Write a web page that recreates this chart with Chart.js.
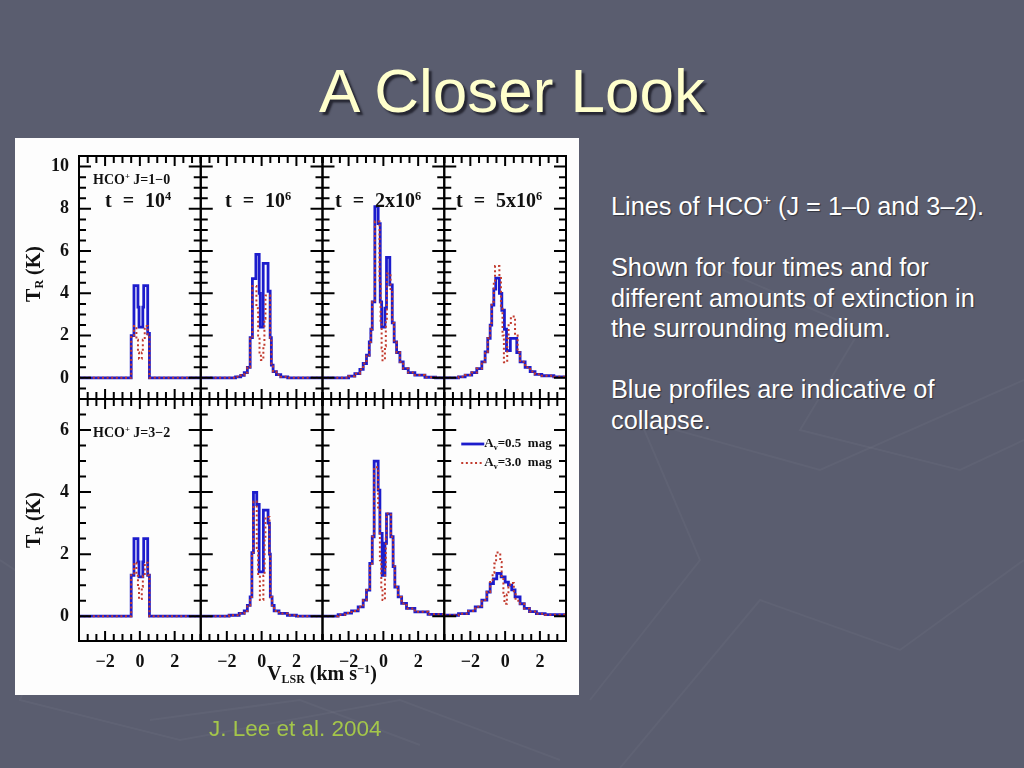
<!DOCTYPE html>
<html>
<head>
<meta charset="utf-8">
<title>A Closer Look</title>
<script src="https://cdn.jsdelivr.net/npm/chart.js@4.4.1/dist/chart.umd.min.js"></script>
<style>
  html, body { margin: 0; padding: 0; }
  body { width: 1024px; height: 768px; overflow: hidden; background: #5a5d6f; font-family: "Liberation Sans", Arial, sans-serif; }
  #slide { position: relative; width: 1024px; height: 768px; }
  #bg { position: absolute; left: 0; top: 0; }
  .title { position: absolute; left: 0; top: 60px; width: 1024px; text-align: center; font-size: 62px; line-height: 62px; color: #ffffcc; text-shadow: 3px 3px 2px rgba(20, 20, 30, 0.75); }
  #figure { position: absolute; left: 15px; top: 138px; width: 564px; height: 557px; background: #fdfdfd; }
  #plots canvas { position: absolute; left: 0; top: 0; }
  .lbl { position: absolute; font-family: "Liberation Serif", "Times New Roman", serif; font-weight: bold; color: #111; white-space: pre; }
  .lbl sup { font-size: 62%; line-height: 0; vertical-align: 0.6em; }
  .lbl sub { font-size: 60%; line-height: 0; vertical-align: -0.25em; }
  .ytitle { transform: translate(-50%, -50%) rotate(-90deg); font-size: 20px; line-height: 20px; }
  .notes { position: absolute; left: 611px; top: 191px; font-size: 25.3px; line-height: 30.5px; color: #ffffff; white-space: nowrap; text-shadow: 1px 1px 1px rgba(0, 0, 0, 0.45); }
  .notes sup { font-size: 55%; line-height: 0; vertical-align: 0.75em; }
  .cite { position: absolute; left: 209px; top: 718px; font-size: 22.5px; line-height: 22px; color: #a4c64a; }
</style>
</head>
<body>
<div id="slide">
  <svg id="bg" width="1024" height="768">
    <g fill="none" stroke="rgba(255,255,255,0.035)" stroke-width="2">
      <polyline points="590,700 700,560 640,420 820,470 1024,380"/>
      <polyline points="620,768 760,600 900,650 1024,560"/>
      <polyline points="0,560 60,600 20,700 180,740 400,700 560,760"/>
      <polyline points="700,260 860,330 800,430 960,470 1024,440"/>
      <polyline points="150,720 300,700 420,745"/>
    </g>
  </svg>
  <div class="title">A Closer Look</div>
  <div id="figure">
    <div id="plots"></div>
    <div class="lbl" style="left:78px; top:35px; font-size:14px; line-height:14px;">HCO<sup>+</sup> J=1−0</div>
    <div class="lbl" style="left:78px; top:288px; font-size:14px; line-height:14px;">HCO<sup>+</sup> J=3−2</div>
    <div id="timeLabels"></div>
    <div class="lbl ytitle" style="left:18px; top:136px;">T<sub>R</sub> (K)</div>
    <div class="lbl ytitle" style="left:18px; top:382px;">T<sub>R</sub> (K)</div>
    <div class="lbl" style="left:307px; top:525px; font-size:20px; line-height:20px; transform:translateX(-50%);">V<sub>LSR</sub> (km s<sup>−1</sup>)</div>
  </div>
  <div class="notes">Lines of HCO<sup>+</sup> (J = 1–0 and 3–2).<br><br>Shown for four times and for<br>different amounts of extinction in<br>the surrounding medium.<br><br>Blue profiles are indicative of<br>collapse.</div>
  <div class="cite">J. Lee et al. 2004</div>
</div>

<script>
// ===== axis values and labels =====
const velRange = [-3.5, 3.5];
const velLabels = [-2, 0, 2];
const rangeTop = [-1, 10.5];
const rangeBottom = [-0.8, 7];
const tickLabelsTop = [0, 2, 4, 6, 8, 10];
const tickLabelsBottom = [0, 2, 4, 6];
const timeMantissa = ['', '', '2x', '5x'];
const timeExponent = ['4', '6', '6', '6'];
const extinctions = ['0.5', '3.0'];

// ===== profiles as [v_LSR channel start, T_R] =====
// HCO+ J=1-0
const j10t1Blue = [[-3.5,0],[-0.5,2.0],[-0.34,4.37],[-0.11,3.35],[-0.05,2.4],[0.17,3.35],[0.22,4.37],[0.45,2.1],[0.55,0],[3.5,0]];
const j10t1Red  = [[-3.5,0],[-0.5,2.0],[-0.34,2.45],[-0.2,1.8],[-0.11,1.2],[-0.05,0.9],[0.11,1.2],[0.17,1.8],[0.28,2.45],[0.45,2.05],[0.55,0],[3.5,0]];
const j10t2Blue = [[-3.5,0],[-1.5,0.05],[-1.2,0.12],[-1.0,0.25],[-0.82,0.5],[-0.66,1.9],[-0.53,4.7],[-0.33,5.84],[-0.14,4.0],[-0.08,2.4],[0.09,5.42],[0.37,4.1],[0.49,1.9],[0.56,0.6],[0.66,0.3],[0.85,0.15],[1.1,0.05],[1.5,0],[3.5,0]];
const j10t2Red  = [[-3.5,0],[-1.5,0.05],[-1.2,0.12],[-1.0,0.25],[-0.82,0.5],[-0.66,1.9],[-0.53,4.35],[-0.3,3.3],[-0.2,2.0],[-0.12,1.2],[-0.04,0.85],[0.1,1.5],[0.16,2.8],[0.22,3.9],[0.49,1.9],[0.56,0.6],[0.66,0.3],[0.85,0.15],[1.1,0.05],[1.5,0],[3.5,0]];
const j10t3Blue = [[-3.5,0],[-2.0,0.08],[-1.64,0.2],[-1.35,0.4],[-1.16,0.68],[-0.97,1.07],[-0.81,1.7],[-0.72,2.3],[-0.64,3.6],[-0.49,8.1],[-0.3,7.3],[-0.18,3.6],[-0.1,2.4],[0.09,3.3],[0.18,5.7],[0.37,4.4],[0.51,2.6],[0.62,1.7],[0.76,1.2],[0.95,0.76],[1.14,0.44],[1.43,0.25],[1.81,0.13],[2.39,0.03],[3.0,0],[3.5,0]];
const j10t3Red  = [[-3.5,0],[-2.0,0.08],[-1.64,0.2],[-1.35,0.4],[-1.16,0.68],[-0.97,1.07],[-0.81,1.7],[-0.72,2.3],[-0.64,3.6],[-0.49,7.4],[-0.22,4.5],[-0.16,2.6],[-0.1,1.4],[-0.05,0.83],[0.09,1.5],[0.14,2.8],[0.2,4.94],[0.41,4.2],[0.51,2.6],[0.62,1.7],[0.76,1.2],[0.95,0.76],[1.14,0.44],[1.43,0.25],[1.81,0.13],[2.39,0.03],[3.0,0],[3.5,0]];
const j10t4Blue = [[-3.5,0],[-2.68,0.05],[-2.3,0.13],[-1.92,0.25],[-1.63,0.44],[-1.34,0.76],[-1.15,1.23],[-1.0,1.87],[-0.86,2.5],[-0.77,3.44],[-0.65,4.2],[-0.54,4.72],[-0.33,4.0],[-0.19,3.2],[-0.04,2.3],[0.08,1.29],[0.3,1.87],[0.67,1.2],[0.86,0.76],[1.15,0.5],[1.44,0.3],[1.72,0.17],[2.11,0.1],[2.8,0.05],[3.5,0.05]];
const j10t4Red  = [[-3.5,0],[-2.68,0.05],[-2.3,0.13],[-1.92,0.25],[-1.63,0.44],[-1.34,0.76],[-1.15,1.23],[-1.0,1.87],[-0.86,2.6],[-0.77,3.6],[-0.65,4.6],[-0.58,5.29],[-0.33,4.8],[-0.24,3.4],[-0.15,2.0],[-0.07,0.74],[0.12,1.87],[0.2,2.6],[0.33,2.9],[0.57,2.0],[0.72,1.2],[0.86,0.76],[1.15,0.5],[1.44,0.3],[1.72,0.17],[2.11,0.1],[2.8,0.05],[3.5,0.05]];
// HCO+ J=3-2
const j32t1Blue = [[-3.5,0],[-0.5,1.32],[-0.34,2.5],[-0.11,1.75],[-0.05,1.27],[0.17,1.75],[0.22,2.5],[0.45,1.32],[0.55,0],[3.5,0]];
const j32t1Red  = [[-3.5,0],[-0.5,1.32],[-0.34,1.72],[-0.2,1.3],[-0.11,0.95],[-0.05,0.55],[0.11,0.95],[0.17,1.3],[0.28,1.72],[0.45,1.32],[0.55,0],[3.5,0]];
const j32t2Blue = [[-3.5,0],[-1.87,0.03],[-1.29,0.09],[-1.0,0.17],[-0.82,0.35],[-0.66,0.62],[-0.56,2.05],[-0.47,3.99],[-0.28,3.6],[-0.14,1.43],[0.1,3.42],[0.37,3.0],[0.45,2.0],[0.5,0.62],[0.6,0.35],[0.72,0.17],[1.0,0.09],[1.48,0.03],[2.0,0],[3.5,0]];
const j32t2Red  = [[-3.5,0],[-1.87,0.03],[-1.29,0.09],[-1.0,0.17],[-0.82,0.35],[-0.66,0.62],[-0.56,2.05],[-0.47,3.7],[-0.28,2.2],[-0.2,1.3],[-0.1,0.52],[0.1,1.3],[0.17,2.5],[0.22,3.2],[0.45,2.0],[0.5,0.62],[0.6,0.35],[0.72,0.17],[1.0,0.09],[1.48,0.03],[2.0,0],[3.5,0]];
const j32t3Blue = [[-3.5,0],[-2.6,0.05],[-2.21,0.1],[-1.83,0.17],[-1.45,0.3],[-1.16,0.52],[-0.97,0.84],[-0.78,1.7],[-0.64,2.56],[-0.53,5.0],[-0.3,4.06],[-0.2,2.67],[-0.07,1.32],[0.09,2.35],[0.18,3.3],[0.43,2.56],[0.56,1.6],[0.66,0.94],[0.85,0.62],[1.05,0.41],[1.33,0.25],[1.81,0.14],[2.57,0.06],[3.5,0.03]];
const j32t3Red  = [[-3.5,0],[-2.6,0.05],[-2.21,0.1],[-1.83,0.17],[-1.45,0.3],[-1.16,0.52],[-0.97,0.84],[-0.78,1.7],[-0.64,2.56],[-0.53,4.8],[-0.3,3.5],[-0.2,1.8],[-0.12,0.9],[-0.05,0.52],[0.09,1.5],[0.14,2.5],[0.18,3.31],[0.43,2.56],[0.56,1.6],[0.66,0.94],[0.85,0.62],[1.05,0.41],[1.33,0.25],[1.81,0.14],[2.57,0.06],[3.5,0.03]];
const j32t4Blue = [[-3.5,0.03],[-2.68,0.08],[-2.11,0.17],[-1.72,0.3],[-1.34,0.52],[-1.05,0.78],[-0.86,1.05],[-0.67,1.2],[-0.48,1.38],[-0.23,1.27],[0.0,1.1],[0.19,1.0],[0.38,0.85],[0.57,0.62],[0.86,0.4],[1.1,0.25],[1.4,0.15],[1.8,0.08],[2.3,0.05],[3.5,0.03]];
const j32t4Red  = [[-3.5,0.03],[-2.68,0.08],[-2.11,0.17],[-1.72,0.3],[-1.34,0.52],[-1.05,0.78],[-0.86,1.1],[-0.72,1.4],[-0.62,1.7],[-0.52,2.05],[-0.28,1.75],[-0.2,1.2],[-0.1,0.65],[-0.04,0.4],[0.1,0.7],[0.19,0.95],[0.29,1.07],[0.5,0.75],[0.6,0.5],[0.86,0.4],[1.1,0.25],[1.4,0.15],[1.8,0.08],[2.3,0.05],[3.5,0.03]];

const panels = [
  [j10t1Blue, j10t1Red], [j10t2Blue, j10t2Red], [j10t3Blue, j10t3Red], [j10t4Blue, j10t4Red],
  [j32t1Blue, j32t1Red], [j32t2Blue, j32t2Red], [j32t3Blue, j32t3Red], [j32t4Blue, j32t4Red]
];

// ===== layout of the 4x2 grid inside the white figure =====
const figW = 564, figH = 557;
const colEdges = [64, 185.75, 307.5, 429.25, 551];
const rowEdges = [18, 261, 503];
const timeLabelX = [90, 210, 320, 441];
const blue = '#1c1ccc';
const red = '#c23b2e';
const tickFont = { family: '"Liberation Serif", "Times New Roman", serif', size: 18, weight: 'bold' };

function onHalf(v) { return Math.abs(v * 2 - Math.round(v * 2)) < 1e-6; }
function isEven(v) { return Math.abs(v / 2 - Math.round(v / 2)) < 1e-6; }

// frame plus inward tick marks on all four sides (PGPLOT style)
const frameTicks = {
  id: 'frameTicks',
  afterDatasetsDraw(chart) {
    const { ctx, chartArea: a, scales: { x, y } } = chart;
    ctx.save();
    ctx.strokeStyle = '#000';
    ctx.lineWidth = 2;
    ctx.beginPath();
    x.ticks.forEach(t => {
      if (!onHalf(t.value)) return;
      const px = x.getPixelForValue(t.value);
      const len = isEven(t.value) ? 10 : 7;
      ctx.moveTo(px, a.bottom); ctx.lineTo(px, a.bottom - len);
      ctx.moveTo(px, a.top); ctx.lineTo(px, a.top + len);
    });
    y.ticks.forEach(t => {
      if (!onHalf(t.value)) return;
      const py = y.getPixelForValue(t.value);
      const len = isEven(t.value) ? 12 : 7;
      ctx.moveTo(a.left, py); ctx.lineTo(a.left + len, py);
      ctx.moveTo(a.right, py); ctx.lineTo(a.right - len, py);
    });
    ctx.stroke();
    ctx.strokeRect(a.left, a.top, a.right - a.left, a.bottom - a.top);
    ctx.restore();
  }
};

// small legend drawn inside the last panel
const insideLegend = {
  id: 'insideLegend',
  afterDraw(chart, args, opts) {
    if (!opts.show) return;
    const { ctx, chartArea: a } = chart;
    chart.data.datasets.forEach((ds, k) => {
      const yy = a.top + 45 + k * 19;
      const x0 = a.left + 17, x1 = a.left + 40;
      ctx.save();
      ctx.strokeStyle = ds.borderColor;
      ctx.lineWidth = ds.borderWidth;
      ctx.setLineDash(ds.borderDash || []);
      ctx.beginPath(); ctx.moveTo(x0, yy); ctx.lineTo(x1, yy); ctx.stroke();
      ctx.setLineDash([]);
      ctx.fillStyle = '#111';
      ctx.textBaseline = 'middle';
      let tx = x1;
      ctx.font = 'bold 13px "Liberation Serif"';
      ctx.fillText('A', tx, yy); tx += ctx.measureText('A').width;
      ctx.font = 'bold 8px "Liberation Serif"';
      ctx.fillText('v', tx, yy + 4); tx += ctx.measureText('v').width;
      ctx.font = 'bold 13px "Liberation Serif"';
      ctx.fillText('=' + ds.label + '  mag', tx, yy);
      ctx.restore();
    });
  }
};

const plots = document.getElementById('plots');

panels.forEach((pair, i) => {
  const r = Math.floor(i / 4), c = i % 4;
  const yW = c === 0 ? 40 : 0;
  const xH = r === 1 ? 32 : 0;
  const yRange = r === 0 ? rangeTop : rangeBottom;
  const yLabels = r === 0 ? tickLabelsTop : tickLabelsBottom;

  const canvas = document.createElement('canvas');
  canvas.width = figW;
  canvas.height = figH;
  plots.appendChild(canvas);

  new Chart(canvas, {
    type: 'line',
    data: {
      datasets: [
        { label: extinctions[0], data: pair[0], borderColor: blue, borderWidth: 2.8, stepped: true, pointRadius: 0, order: 2 },
        { label: extinctions[1], data: pair[1], borderColor: red, borderWidth: 2, borderDash: [2, 2.6], stepped: true, pointRadius: 0, order: 1 }
      ]
    },
    options: {
      responsive: false,
      animation: false,
      events: [],
      layout: {
        padding: {
          left: colEdges[c] - yW,
          right: figW - colEdges[c + 1],
          top: rowEdges[r],
          bottom: figH - rowEdges[r + 1] - xH
        }
      },
      plugins: {
        legend: { display: false },
        tooltip: { enabled: false },
        insideLegend: { show: i === 7 }
      },
      scales: {
        x: {
          type: 'linear',
          min: velRange[0],
          max: velRange[1],
          grid: { display: false, drawTicks: false },
          border: { display: false },
          ticks: {
            display: r === 1,
            stepSize: 0.5,
            autoSkip: false,
            maxRotation: 0,
            padding: 11,
            color: '#111',
            font: tickFont,
            callback: v => {
              const hit = velLabels.find(l => Math.abs(l - v) < 1e-6);
              if (hit === undefined) return '';
              return hit < 0 ? '\u2212' + Math.abs(hit) : String(hit);
            }
          },
          afterFit: s => { s.height = xH; s.paddingLeft = 0; s.paddingRight = 0; }
        },
        y: {
          type: 'linear',
          min: yRange[0],
          max: yRange[1],
          grid: { display: false, drawTicks: false },
          border: { display: false },
          ticks: {
            display: c === 0,
            stepSize: 0.5,
            autoSkip: false,
            padding: 10,
            color: '#111',
            font: tickFont,
            callback: v => {
              const hit = yLabels.find(l => Math.abs(l - v) < 1e-6);
              return hit === undefined ? '' : String(hit);
            }
          },
          afterFit: s => { s.width = yW; s.paddingTop = 0; s.paddingBottom = 0; }
        }
      }
    },
    plugins: [frameTicks, insideLegend]
  });
});

// time labels at the top of each column
const timeBox = document.getElementById('timeLabels');
timeExponent.forEach((exp, c) => {
  const d = document.createElement('div');
  d.className = 'lbl';
  d.style.left = timeLabelX[c] + 'px';
  d.style.top = '52px';
  d.style.fontSize = '20px';
  d.style.lineHeight = '20px';
  d.style.wordSpacing = '6px';
  d.innerHTML = 't = ' + timeMantissa[c] + '10<sup>' + exp + '</sup>';
  timeBox.appendChild(d);
});
</script>
</body>
</html>
